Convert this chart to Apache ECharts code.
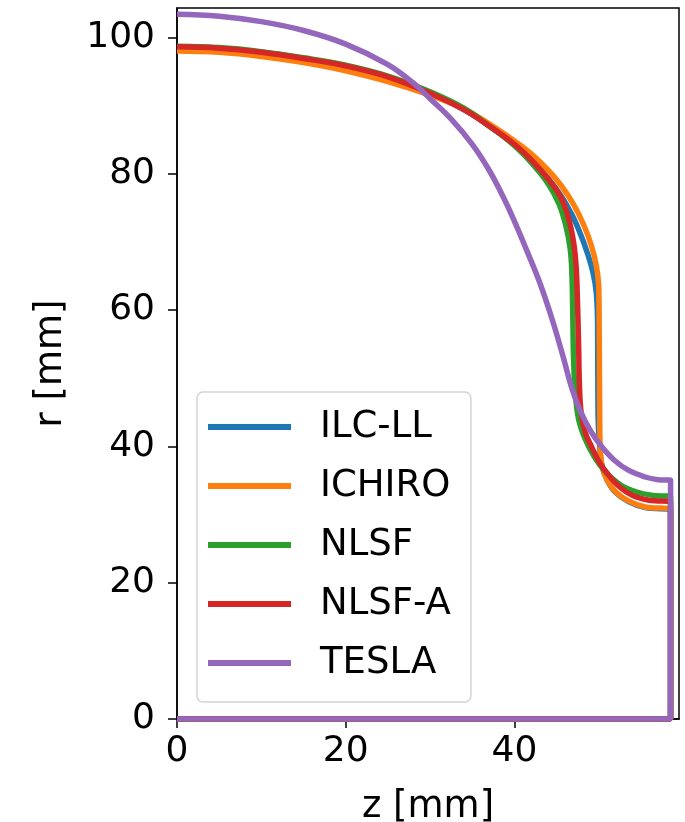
<!DOCTYPE html>
<html>
<head>
<meta charset="utf-8">
<script src="https://cdn.jsdelivr.net/npm/echarts@6/dist/echarts.min.js"></script>
<style>
  html, body { margin: 0; padding: 0; background: #fff; }
  #main { width: 685px; height: 822px; }
</style>
</head>
<body>
<div id="main"></div>
<script>
// half-cell profiles, [z, r] in mm
var names = ['ILC-LL', 'ICHIRO', 'NLSF', 'NLSF-A', 'TESLA'];
var colors = ['#1f77b4', '#ff7f0e', '#2ca02c', '#d62728', '#9467bd'];

var ilcll = [[0, 98.6], [5, 98.4], [10, 97.8], [15, 96.9], [20, 95.8], [25, 94.1], [30, 91.8], [34, 89.4],
    [37, 87.0], [40, 84.3], [42, 82.0], [44, 79.3], [45.5, 76.8], [46.8, 74.0], [47.8, 71.2], [48.6, 68.5],
    [49.3, 65.5], [49.7, 62.5], [49.85, 58], [49.9, 45], [50.1, 40], [50.4, 37], [51, 35], [52, 33.2],
    [53.5, 31.9], [55.5, 31.0], [58.5, 30.6], [58.5, 0], [0, 0]];
var ichiro = [[0, 98.0], [5, 97.8], [10, 97.2], [15, 96.3], [20, 95.1], [25, 93.5], [30, 91.5], [34, 89.5],
    [37, 87.3], [40, 84.8], [42, 82.9], [44, 80.5], [45.5, 78.3], [47, 75.5], [48.2, 72.5], [49.1, 69.5],
    [49.7, 66.5], [50, 63], [50.05, 55], [50.1, 45], [50.15, 40], [50.4, 37], [51, 35], [52, 33.3],
    [53.5, 32], [55.5, 31.1], [58.5, 30.7], [58.5, 0], [0, 0]];
var nlsf = [[0, 98.7], [5, 98.5], [10, 97.9], [15, 97.0], [20, 95.9], [25, 94.3], [30, 92.0], [34, 89.6],
    [37, 87.0], [40, 84.1], [42, 81.6], [44, 78.5], [45.3, 75.5], [46.1, 72.3], [46.6, 69], [46.8, 65.5],
    [46.9, 60], [47.0, 53], [47.2, 48], [47.6, 44], [48.4, 41], [49.5, 38.4], [50.7, 36.4], [52.5, 34.4],
    [54.5, 33.3], [56.5, 32.8], [58.5, 32.6], [58.5, 0], [0, 0]];
var nlsfa = [[0, 98.6], [5, 98.4], [10, 97.8], [15, 96.9], [20, 95.8], [25, 94.2], [30, 91.8], [34, 89.4],
    [37, 87.0], [40, 84.3], [42, 82.0], [44, 79.2], [45.5, 76.5], [46.4, 73.5], [47.0, 70.0], [47.3, 66.5],
    [47.45, 62], [47.6, 55], [47.7, 49], [47.9, 45], [48.4, 42], [49.0, 40.3], [50.0, 37.8], [51.0, 36.0],
    [52.5, 34.0], [54, 32.8], [56, 32.1], [58.5, 31.8], [58.5, 0], [0, 0]];
var tesla = [[0, 103.4], [5, 103.1], [10, 102.3], [15, 101.0], [20, 99.0], [25, 96.0], [28, 93.3], [30, 91.0],
    [32.5, 88.0], [35, 84.3], [37, 80.5], [38.7, 76.5], [40, 73.0], [41.5, 68.6], [43, 64], [44.5, 58.5],
    [45.8, 53], [46.8, 48.5], [47.8, 45.2], [49, 42.3], [50.3, 40.0], [51.8, 38.0], [53.5, 36.5],
    [55.5, 35.5], [57, 35.1], [58.5, 35.0], [58.5, 0], [0, 0]];
var profiles = [ilcll, ichiro, nlsf, nlsfa, tesla];

var xTicks = [0, 20, 40];
var yTicks = [0, 20, 40, 60, 80, 100];

var font = 'DejaVu Sans';
var myChart = echarts.init(document.getElementById('main'));

var series = [];
for (var i = 0; i < names.length; i++) {
    series.push({
        name: names[i],
        type: 'line',
        data: profiles[i],
        symbol: 'none',
        smooth: 0.4,
        lineStyle: { color: colors[i], width: 5.5 },
        itemStyle: { color: colors[i] },
        z: 2 + i
    });
}

var option = {
    animation: false,
    backgroundColor: '#fff',
    grid: {
        left: 177, right: 6, top: 8, bottom: 103,
        outerBoundsMode: 'none',
        show: true, borderColor: '#000', borderWidth: 1.5
    },
    legend: {
        data: names,
        orient: 'vertical',
        left: 197, top: 392,
        padding: [15, 20, 19, 11],
        itemGap: 19,
        itemWidth: 83, itemHeight: 6,
        icon: 'rect',
        backgroundColor: 'rgba(255,255,255,0.8)',
        borderColor: '#d4d4d4', borderWidth: 1.5, borderRadius: 6,
        textStyle: { fontFamily: font, fontSize: 37, color: '#000', lineHeight: 40, padding: [0, 0, 0, 24] }
    },
    xAxis: {
        type: 'value', min: 0, max: 59.5,
        name: 'z [mm]', nameLocation: 'middle', nameGap: 70,
        nameTextStyle: { fontFamily: font, fontSize: 37, color: '#000' },
        axisLine: { show: true, lineStyle: { color: '#000', width: 1.5 } },
        axisTick: { show: true, length: 9, lineStyle: { color: '#000', width: 1.5 }, customValues: xTicks },
        axisLabel: { fontFamily: font, fontSize: 36, color: '#000', margin: 15, customValues: xTicks },
        splitLine: { show: false }
    },
    yAxis: {
        type: 'value', min: 0, max: 104.3,
        name: 'r [mm]', nameLocation: 'middle', nameGap: 107, nameRotate: 90,
        nameTextStyle: { fontFamily: font, fontSize: 37, color: '#000' },
        axisLine: { show: true, lineStyle: { color: '#000', width: 1.5 } },
        axisTick: { show: true, length: 9, lineStyle: { color: '#000', width: 1.5 }, customValues: yTicks },
        axisLabel: { fontFamily: font, fontSize: 36, color: '#000', margin: 22, customValues: yTicks },
        splitLine: { show: false }
    },
    series: series
};

myChart.setOption(option);
</script>
</body>
</html>
